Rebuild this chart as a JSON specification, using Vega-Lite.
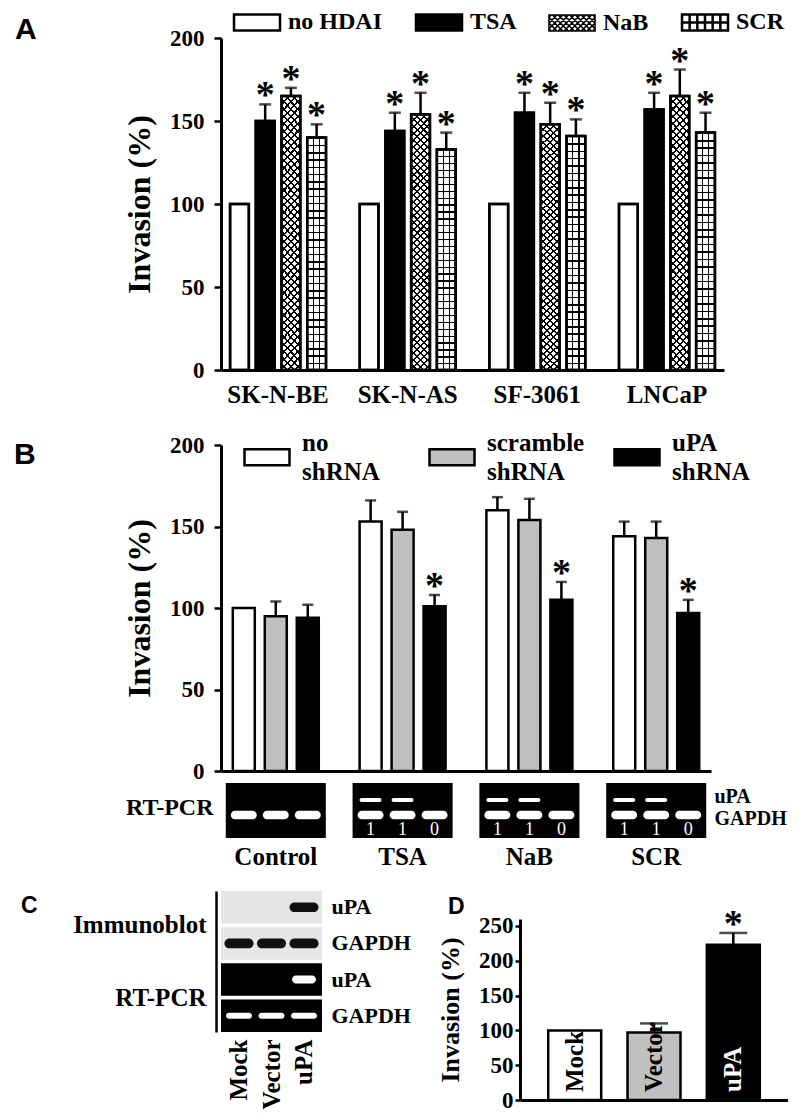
{
"$schema":"https://vega.github.io/schema/vega-lite/v6.json",
"padding":{"left":14,"top":10,"right":0,"bottom":0},
"config":{
 "view":{"stroke":null},
 "font":"Liberation Serif",
 "axis":{"labelFont":"Liberation Serif","labelFontWeight":"bold","labelColor":"#000","labelFontSize":23,"titleFont":"Liberation Serif","titleFontWeight":"bold","titleColor":"#000","domainColor":"#000","domainWidth":3,"tickColor":"#000","tickWidth":2.5,"grid":false},
 "legend":{"labelFont":"Liberation Serif","labelFontWeight":"bold","labelColor":"#000","padding":0,"labelLimit":400},
 "title":{"font":"Liberation Sans","fontWeight":"bold","color":"#000","anchor":"start","frame":"group"}
},
"datasets":{
 "a":[
  {"cell":"SK-N-BE","series":"no HDAI","value":100},
  {"cell":"SK-N-BE","series":"TSA","value":150,"hi":160,"sig":"*"},
  {"cell":"SK-N-BE","series":"NaB","value":165,"hi":170,"sig":"*"},
  {"cell":"SK-N-BE","series":"SCR","value":140,"hi":148,"sig":"*"},
  {"cell":"SK-N-AS","series":"no HDAI","value":100},
  {"cell":"SK-N-AS","series":"TSA","value":144,"hi":155,"sig":"*"},
  {"cell":"SK-N-AS","series":"NaB","value":154,"hi":167,"sig":"*"},
  {"cell":"SK-N-AS","series":"SCR","value":133,"hi":143,"sig":"*"},
  {"cell":"SF-3061","series":"no HDAI","value":100},
  {"cell":"SF-3061","series":"TSA","value":155,"hi":167,"sig":"*"},
  {"cell":"SF-3061","series":"NaB","value":148,"hi":161,"sig":"*"},
  {"cell":"SF-3061","series":"SCR","value":141,"hi":151,"sig":"*"},
  {"cell":"LNCaP","series":"no HDAI","value":100},
  {"cell":"LNCaP","series":"TSA","value":157,"hi":167,"sig":"*"},
  {"cell":"LNCaP","series":"NaB","value":165,"hi":181,"sig":"*"},
  {"cell":"LNCaP","series":"SCR","value":143,"hi":155,"sig":"*"}
 ],
 "b":[
  {"group":"Control","series":"no shRNA","value":100},
  {"group":"Control","series":"scramble shRNA","value":95,"hi":104},
  {"group":"Control","series":"uPA shRNA","value":94,"hi":102},
  {"group":"TSA","series":"no shRNA","value":153,"hi":166},
  {"group":"TSA","series":"scramble shRNA","value":148,"hi":159},
  {"group":"TSA","series":"uPA shRNA","value":101,"hi":108,"sig":"*"},
  {"group":"NaB","series":"no shRNA","value":160,"hi":168},
  {"group":"NaB","series":"scramble shRNA","value":154,"hi":167},
  {"group":"NaB","series":"uPA shRNA","value":105,"hi":116,"sig":"*"},
  {"group":"SCR","series":"no shRNA","value":144,"hi":153},
  {"group":"SCR","series":"scramble shRNA","value":143,"hi":153},
  {"group":"SCR","series":"uPA shRNA","value":97,"hi":105,"sig":"*"}
 ],
 "gel":[{"group":"Control"},{"group":"TSA"},{"group":"NaB"},{"group":"SCR"}],
 "gband":[
  {"group":"Control","lane":"no shRNA","gene":"GAPDH"},
  {"group":"Control","lane":"scramble shRNA","gene":"GAPDH"},
  {"group":"Control","lane":"uPA shRNA","gene":"GAPDH"},
  {"group":"TSA","lane":"no shRNA","gene":"GAPDH"},
  {"group":"TSA","lane":"scramble shRNA","gene":"GAPDH"},
  {"group":"TSA","lane":"uPA shRNA","gene":"GAPDH"},
  {"group":"NaB","lane":"no shRNA","gene":"GAPDH"},
  {"group":"NaB","lane":"scramble shRNA","gene":"GAPDH"},
  {"group":"NaB","lane":"uPA shRNA","gene":"GAPDH"},
  {"group":"SCR","lane":"no shRNA","gene":"GAPDH"},
  {"group":"SCR","lane":"scramble shRNA","gene":"GAPDH"},
  {"group":"SCR","lane":"uPA shRNA","gene":"GAPDH"},
  {"group":"TSA","lane":"no shRNA","gene":"uPA"},
  {"group":"TSA","lane":"scramble shRNA","gene":"uPA"},
  {"group":"NaB","lane":"no shRNA","gene":"uPA"},
  {"group":"NaB","lane":"scramble shRNA","gene":"uPA"},
  {"group":"SCR","lane":"no shRNA","gene":"uPA"},
  {"group":"SCR","lane":"scramble shRNA","gene":"uPA"}
 ],
 "gnum":[
  {"group":"TSA","lane":"no shRNA","row":"num","label":"1"},
  {"group":"TSA","lane":"scramble shRNA","row":"num","label":"1"},
  {"group":"TSA","lane":"uPA shRNA","row":"num","label":"0"},
  {"group":"NaB","lane":"no shRNA","row":"num","label":"1"},
  {"group":"NaB","lane":"scramble shRNA","row":"num","label":"1"},
  {"group":"NaB","lane":"uPA shRNA","row":"num","label":"0"},
  {"group":"SCR","lane":"no shRNA","row":"num","label":"1"},
  {"group":"SCR","lane":"scramble shRNA","row":"num","label":"1"},
  {"group":"SCR","lane":"uPA shRNA","row":"num","label":"0"}
 ],
 "cbg":[
  {"row":"IB-uPA","tech":"Immunoblot"},
  {"row":"IB-GAPDH","tech":"Immunoblot"},
  {"row":"PCR-uPA","tech":"RT-PCR"},
  {"row":"PCR-GAPDH","tech":"RT-PCR"}
 ],
 "cband":[
  {"lane":"uPA","row":"IB-uPA"},
  {"lane":"Mock","row":"IB-GAPDH"},
  {"lane":"Vector","row":"IB-GAPDH"},
  {"lane":"uPA","row":"IB-GAPDH"},
  {"lane":"uPA","row":"PCR-uPA"},
  {"lane":"Mock","row":"PCR-GAPDH"},
  {"lane":"Vector","row":"PCR-GAPDH"},
  {"lane":"uPA","row":"PCR-GAPDH"}
 ],
 "d":[
  {"sample":"Mock","value":100},
  {"sample":"Vector","value":97,"hi":110},
  {"sample":"uPA","value":223,"hi":240,"sig":"*"}
 ]
},
"resolve":{"scale":{"fill":"independent","xOffset":"independent"},"legend":{"fill":"independent"}},
"spacing":26,
"vconcat":[
 {
  "width":503,"height":332,
  "title":{"text":"A","fontSize":30,"dx":-206,"dy":39},
  "data":{"name":"a"},
  "encoding":{
   "x":{"field":"cell","type":"nominal","scale":{"domain":["SK-N-BE","SK-N-AS","SF-3061","LNCaP"],"paddingInner":0.26,"paddingOuter":0.07},"axis":{"title":null,"ticks":false,"labelAngle":0,"labelFontSize":25,"labelPadding":12}},
   "xOffset":{"field":"series","type":"nominal","scale":{"domain":["no HDAI","TSA","NaB","SCR"],"paddingInner":0.27,"paddingOuter":0}}
  },
  "layer":[
   {"mark":{"type":"bar","stroke":"#000","strokeWidth":2.5},
    "encoding":{
     "y":{"field":"value","type":"quantitative","stack":null,"scale":{"domain":[0,200]},"title":"Invasion (%)","axis":{"values":[0,50,100,150,200],"tickSize":7,"labelPadding":10,"titleFontSize":32,"titlePadding":13}},
     "fill":{"field":"series","type":"nominal","scale":{"domain":["no HDAI","TSA","NaB","SCR"],"range":["#fff","#000","#fff","#fff"]},
      "legend":{"orient":"none","legendX":24,"legendY":-28,"direction":"horizontal","title":null,"symbolType":"M-1,-0.348H1V0.348H-1Z","symbolSize":2116,"symbolStrokeColor":"#000","symbolStrokeWidth":2.5,"labelFontSize":24,"labelOffset":19,"columnPadding":28,"gridAlign":"each",
       "encode":{"symbols":{"update":{
        "shape":{"signal":"datum.value==='NaB'?'M-1,-0.348H1V0.348H-1Z M-1,0.25L-0.902,0.348 M-1,0L-0.652,0.348 M-1,-0.25L-0.402,0.348 M-0.848,-0.348L-0.152,0.348 M-0.598,-0.348L0.098,0.348 M-0.348,-0.348L0.348,0.348 M-0.098,-0.348L0.598,0.348 M0.152,-0.348L0.848,0.348 M0.402,-0.348L1,0.25 M0.652,-0.348L1,0 M0.902,-0.348L1,-0.25 M-0.902,-0.348L-1,-0.25 M-0.652,-0.348L-1,0 M-0.402,-0.348L-1,0.25 M-0.152,-0.348L-0.848,0.348 M0.098,-0.348L-0.598,0.348 M0.348,-0.348L-0.348,0.348 M0.598,-0.348L-0.098,0.348 M0.848,-0.348L0.152,0.348 M1,-0.25L0.402,0.348 M1,0L0.652,0.348 M1,0.25L0.902,0.348':datum.value==='SCR'?'M-1,-0.348H1V0.348H-1Z M-0.667,-0.348V0.348 M-0.333,-0.348V0.348 M0,-0.348V0.348 M0.333,-0.348V0.348 M0.667,-0.348V0.348 M-1,0H1':'M-1,-0.348H1V0.348H-1Z'"},
        "stroke":{"value":"#000"},
        "strokeWidth":{"signal":"datum.value==='NaB'?1.6:2.5"}}}}}}
    }},
   {"transform":[{"filter":"datum.series==='NaB'"}],
    "mark":{"type":"bar","fill":{"gradient":"linear","x1":0,"y1":0,"x2":0.0791,"y2":1.068,"stops":[
{"offset":0,"color":"#000"},{"offset":0.0075,"color":"#000"},{"offset":0.0075,"color":"#0000"},{"offset":0.025,"color":"#0000"},
{"offset":0.025,"color":"#000"},{"offset":0.0325,"color":"#000"},{"offset":0.0325,"color":"#0000"},{"offset":0.05,"color":"#0000"},
{"offset":0.05,"color":"#000"},{"offset":0.0575,"color":"#000"},{"offset":0.0575,"color":"#0000"},{"offset":0.075,"color":"#0000"},
{"offset":0.075,"color":"#000"},{"offset":0.0825,"color":"#000"},{"offset":0.0825,"color":"#0000"},{"offset":0.1,"color":"#0000"},
{"offset":0.1,"color":"#000"},{"offset":0.1075,"color":"#000"},{"offset":0.1075,"color":"#0000"},{"offset":0.125,"color":"#0000"},
{"offset":0.125,"color":"#000"},{"offset":0.1325,"color":"#000"},{"offset":0.1325,"color":"#0000"},{"offset":0.15,"color":"#0000"},
{"offset":0.15,"color":"#000"},{"offset":0.1575,"color":"#000"},{"offset":0.1575,"color":"#0000"},{"offset":0.175,"color":"#0000"},
{"offset":0.175,"color":"#000"},{"offset":0.1825,"color":"#000"},{"offset":0.1825,"color":"#0000"},{"offset":0.2,"color":"#0000"},
{"offset":0.2,"color":"#000"},{"offset":0.2075,"color":"#000"},{"offset":0.2075,"color":"#0000"},{"offset":0.225,"color":"#0000"},
{"offset":0.225,"color":"#000"},{"offset":0.2325,"color":"#000"},{"offset":0.2325,"color":"#0000"},{"offset":0.25,"color":"#0000"},
{"offset":0.25,"color":"#000"},{"offset":0.2575,"color":"#000"},{"offset":0.2575,"color":"#0000"},{"offset":0.275,"color":"#0000"},
{"offset":0.275,"color":"#000"},{"offset":0.2825,"color":"#000"},{"offset":0.2825,"color":"#0000"},{"offset":0.3,"color":"#0000"},
{"offset":0.3,"color":"#000"},{"offset":0.3075,"color":"#000"},{"offset":0.3075,"color":"#0000"},{"offset":0.325,"color":"#0000"},
{"offset":0.325,"color":"#000"},{"offset":0.3325,"color":"#000"},{"offset":0.3325,"color":"#0000"},{"offset":0.35,"color":"#0000"},
{"offset":0.35,"color":"#000"},{"offset":0.3575,"color":"#000"},{"offset":0.3575,"color":"#0000"},{"offset":0.375,"color":"#0000"},
{"offset":0.375,"color":"#000"},{"offset":0.3825,"color":"#000"},{"offset":0.3825,"color":"#0000"},{"offset":0.4,"color":"#0000"},
{"offset":0.4,"color":"#000"},{"offset":0.4075,"color":"#000"},{"offset":0.4075,"color":"#0000"},{"offset":0.425,"color":"#0000"},
{"offset":0.425,"color":"#000"},{"offset":0.4325,"color":"#000"},{"offset":0.4325,"color":"#0000"},{"offset":0.45,"color":"#0000"},
{"offset":0.45,"color":"#000"},{"offset":0.4575,"color":"#000"},{"offset":0.4575,"color":"#0000"},{"offset":0.475,"color":"#0000"},
{"offset":0.475,"color":"#000"},{"offset":0.4825,"color":"#000"},{"offset":0.4825,"color":"#0000"},{"offset":0.5,"color":"#0000"},
{"offset":0.5,"color":"#000"},{"offset":0.5075,"color":"#000"},{"offset":0.5075,"color":"#0000"},{"offset":0.525,"color":"#0000"},
{"offset":0.525,"color":"#000"},{"offset":0.5325,"color":"#000"},{"offset":0.5325,"color":"#0000"},{"offset":0.55,"color":"#0000"},
{"offset":0.55,"color":"#000"},{"offset":0.5575,"color":"#000"},{"offset":0.5575,"color":"#0000"},{"offset":0.575,"color":"#0000"},
{"offset":0.575,"color":"#000"},{"offset":0.5825,"color":"#000"},{"offset":0.5825,"color":"#0000"},{"offset":0.6,"color":"#0000"},
{"offset":0.6,"color":"#000"},{"offset":0.6075,"color":"#000"},{"offset":0.6075,"color":"#0000"},{"offset":0.625,"color":"#0000"},
{"offset":0.625,"color":"#000"},{"offset":0.6325,"color":"#000"},{"offset":0.6325,"color":"#0000"},{"offset":0.65,"color":"#0000"},
{"offset":0.65,"color":"#000"},{"offset":0.6575,"color":"#000"},{"offset":0.6575,"color":"#0000"},{"offset":0.675,"color":"#0000"},
{"offset":0.675,"color":"#000"},{"offset":0.6825,"color":"#000"},{"offset":0.6825,"color":"#0000"},{"offset":0.7,"color":"#0000"},
{"offset":0.7,"color":"#000"},{"offset":0.7075,"color":"#000"},{"offset":0.7075,"color":"#0000"},{"offset":0.725,"color":"#0000"},
{"offset":0.725,"color":"#000"},{"offset":0.7325,"color":"#000"},{"offset":0.7325,"color":"#0000"},{"offset":0.75,"color":"#0000"},
{"offset":0.75,"color":"#000"},{"offset":0.7575,"color":"#000"},{"offset":0.7575,"color":"#0000"},{"offset":0.775,"color":"#0000"},
{"offset":0.775,"color":"#000"},{"offset":0.7825,"color":"#000"},{"offset":0.7825,"color":"#0000"},{"offset":0.8,"color":"#0000"},
{"offset":0.8,"color":"#000"},{"offset":0.8075,"color":"#000"},{"offset":0.8075,"color":"#0000"},{"offset":0.825,"color":"#0000"},
{"offset":0.825,"color":"#000"},{"offset":0.8325,"color":"#000"},{"offset":0.8325,"color":"#0000"},{"offset":0.85,"color":"#0000"},
{"offset":0.85,"color":"#000"},{"offset":0.8575,"color":"#000"},{"offset":0.8575,"color":"#0000"},{"offset":0.875,"color":"#0000"},
{"offset":0.875,"color":"#000"},{"offset":0.8825,"color":"#000"},{"offset":0.8825,"color":"#0000"},{"offset":0.9,"color":"#0000"},
{"offset":0.9,"color":"#000"},{"offset":0.9075,"color":"#000"},{"offset":0.9075,"color":"#0000"},{"offset":0.925,"color":"#0000"},
{"offset":0.925,"color":"#000"},{"offset":0.9325,"color":"#000"},{"offset":0.9325,"color":"#0000"},{"offset":0.95,"color":"#0000"},
{"offset":0.95,"color":"#000"},{"offset":0.9575,"color":"#000"},{"offset":0.9575,"color":"#0000"},{"offset":0.975,"color":"#0000"},
{"offset":0.975,"color":"#000"},{"offset":0.9825,"color":"#000"},{"offset":0.9825,"color":"#0000"},{"offset":1,"color":"#0000"}
    ]}},
    "encoding":{"y":{"field":"value","type":"quantitative","stack":null,"title":"Invasion (%)"}}},
   {"transform":[{"filter":"datum.series==='NaB'"}],
    "mark":{"type":"bar","fill":{"gradient":"linear","x1":1,"y1":0,"x2":0.9209,"y2":1.068,"stops":[
{"offset":0,"color":"#000"},{"offset":0.0075,"color":"#000"},{"offset":0.0075,"color":"#0000"},{"offset":0.025,"color":"#0000"},
{"offset":0.025,"color":"#000"},{"offset":0.0325,"color":"#000"},{"offset":0.0325,"color":"#0000"},{"offset":0.05,"color":"#0000"},
{"offset":0.05,"color":"#000"},{"offset":0.0575,"color":"#000"},{"offset":0.0575,"color":"#0000"},{"offset":0.075,"color":"#0000"},
{"offset":0.075,"color":"#000"},{"offset":0.0825,"color":"#000"},{"offset":0.0825,"color":"#0000"},{"offset":0.1,"color":"#0000"},
{"offset":0.1,"color":"#000"},{"offset":0.1075,"color":"#000"},{"offset":0.1075,"color":"#0000"},{"offset":0.125,"color":"#0000"},
{"offset":0.125,"color":"#000"},{"offset":0.1325,"color":"#000"},{"offset":0.1325,"color":"#0000"},{"offset":0.15,"color":"#0000"},
{"offset":0.15,"color":"#000"},{"offset":0.1575,"color":"#000"},{"offset":0.1575,"color":"#0000"},{"offset":0.175,"color":"#0000"},
{"offset":0.175,"color":"#000"},{"offset":0.1825,"color":"#000"},{"offset":0.1825,"color":"#0000"},{"offset":0.2,"color":"#0000"},
{"offset":0.2,"color":"#000"},{"offset":0.2075,"color":"#000"},{"offset":0.2075,"color":"#0000"},{"offset":0.225,"color":"#0000"},
{"offset":0.225,"color":"#000"},{"offset":0.2325,"color":"#000"},{"offset":0.2325,"color":"#0000"},{"offset":0.25,"color":"#0000"},
{"offset":0.25,"color":"#000"},{"offset":0.2575,"color":"#000"},{"offset":0.2575,"color":"#0000"},{"offset":0.275,"color":"#0000"},
{"offset":0.275,"color":"#000"},{"offset":0.2825,"color":"#000"},{"offset":0.2825,"color":"#0000"},{"offset":0.3,"color":"#0000"},
{"offset":0.3,"color":"#000"},{"offset":0.3075,"color":"#000"},{"offset":0.3075,"color":"#0000"},{"offset":0.325,"color":"#0000"},
{"offset":0.325,"color":"#000"},{"offset":0.3325,"color":"#000"},{"offset":0.3325,"color":"#0000"},{"offset":0.35,"color":"#0000"},
{"offset":0.35,"color":"#000"},{"offset":0.3575,"color":"#000"},{"offset":0.3575,"color":"#0000"},{"offset":0.375,"color":"#0000"},
{"offset":0.375,"color":"#000"},{"offset":0.3825,"color":"#000"},{"offset":0.3825,"color":"#0000"},{"offset":0.4,"color":"#0000"},
{"offset":0.4,"color":"#000"},{"offset":0.4075,"color":"#000"},{"offset":0.4075,"color":"#0000"},{"offset":0.425,"color":"#0000"},
{"offset":0.425,"color":"#000"},{"offset":0.4325,"color":"#000"},{"offset":0.4325,"color":"#0000"},{"offset":0.45,"color":"#0000"},
{"offset":0.45,"color":"#000"},{"offset":0.4575,"color":"#000"},{"offset":0.4575,"color":"#0000"},{"offset":0.475,"color":"#0000"},
{"offset":0.475,"color":"#000"},{"offset":0.4825,"color":"#000"},{"offset":0.4825,"color":"#0000"},{"offset":0.5,"color":"#0000"},
{"offset":0.5,"color":"#000"},{"offset":0.5075,"color":"#000"},{"offset":0.5075,"color":"#0000"},{"offset":0.525,"color":"#0000"},
{"offset":0.525,"color":"#000"},{"offset":0.5325,"color":"#000"},{"offset":0.5325,"color":"#0000"},{"offset":0.55,"color":"#0000"},
{"offset":0.55,"color":"#000"},{"offset":0.5575,"color":"#000"},{"offset":0.5575,"color":"#0000"},{"offset":0.575,"color":"#0000"},
{"offset":0.575,"color":"#000"},{"offset":0.5825,"color":"#000"},{"offset":0.5825,"color":"#0000"},{"offset":0.6,"color":"#0000"},
{"offset":0.6,"color":"#000"},{"offset":0.6075,"color":"#000"},{"offset":0.6075,"color":"#0000"},{"offset":0.625,"color":"#0000"},
{"offset":0.625,"color":"#000"},{"offset":0.6325,"color":"#000"},{"offset":0.6325,"color":"#0000"},{"offset":0.65,"color":"#0000"},
{"offset":0.65,"color":"#000"},{"offset":0.6575,"color":"#000"},{"offset":0.6575,"color":"#0000"},{"offset":0.675,"color":"#0000"},
{"offset":0.675,"color":"#000"},{"offset":0.6825,"color":"#000"},{"offset":0.6825,"color":"#0000"},{"offset":0.7,"color":"#0000"},
{"offset":0.7,"color":"#000"},{"offset":0.7075,"color":"#000"},{"offset":0.7075,"color":"#0000"},{"offset":0.725,"color":"#0000"},
{"offset":0.725,"color":"#000"},{"offset":0.7325,"color":"#000"},{"offset":0.7325,"color":"#0000"},{"offset":0.75,"color":"#0000"},
{"offset":0.75,"color":"#000"},{"offset":0.7575,"color":"#000"},{"offset":0.7575,"color":"#0000"},{"offset":0.775,"color":"#0000"},
{"offset":0.775,"color":"#000"},{"offset":0.7825,"color":"#000"},{"offset":0.7825,"color":"#0000"},{"offset":0.8,"color":"#0000"},
{"offset":0.8,"color":"#000"},{"offset":0.8075,"color":"#000"},{"offset":0.8075,"color":"#0000"},{"offset":0.825,"color":"#0000"},
{"offset":0.825,"color":"#000"},{"offset":0.8325,"color":"#000"},{"offset":0.8325,"color":"#0000"},{"offset":0.85,"color":"#0000"},
{"offset":0.85,"color":"#000"},{"offset":0.8575,"color":"#000"},{"offset":0.8575,"color":"#0000"},{"offset":0.875,"color":"#0000"},
{"offset":0.875,"color":"#000"},{"offset":0.8825,"color":"#000"},{"offset":0.8825,"color":"#0000"},{"offset":0.9,"color":"#0000"},
{"offset":0.9,"color":"#000"},{"offset":0.9075,"color":"#000"},{"offset":0.9075,"color":"#0000"},{"offset":0.925,"color":"#0000"},
{"offset":0.925,"color":"#000"},{"offset":0.9325,"color":"#000"},{"offset":0.9325,"color":"#0000"},{"offset":0.95,"color":"#0000"},
{"offset":0.95,"color":"#000"},{"offset":0.9575,"color":"#000"},{"offset":0.9575,"color":"#0000"},{"offset":0.975,"color":"#0000"},
{"offset":0.975,"color":"#000"},{"offset":0.9825,"color":"#000"},{"offset":0.9825,"color":"#0000"},{"offset":1,"color":"#0000"}
    ]}},
    "encoding":{"y":{"field":"value","type":"quantitative","stack":null,"title":"Invasion (%)"}}},
   {"transform":[{"filter":"datum.series==='SCR'"}],
    "mark":{"type":"bar","fill":{"gradient":"linear","x1":0,"y1":0,"x2":0,"y2":1,"stops":[
{"offset":0,"color":"#000"},{"offset":0.00625,"color":"#000"},{"offset":0.00625,"color":"#0000"},{"offset":0.03125,"color":"#0000"},
{"offset":0.03125,"color":"#000"},{"offset":0.0375,"color":"#000"},{"offset":0.0375,"color":"#0000"},{"offset":0.0625,"color":"#0000"},
{"offset":0.0625,"color":"#000"},{"offset":0.06875,"color":"#000"},{"offset":0.06875,"color":"#0000"},{"offset":0.09375,"color":"#0000"},
{"offset":0.09375,"color":"#000"},{"offset":0.1,"color":"#000"},{"offset":0.1,"color":"#0000"},{"offset":0.125,"color":"#0000"},
{"offset":0.125,"color":"#000"},{"offset":0.13125,"color":"#000"},{"offset":0.13125,"color":"#0000"},{"offset":0.15625,"color":"#0000"},
{"offset":0.15625,"color":"#000"},{"offset":0.1625,"color":"#000"},{"offset":0.1625,"color":"#0000"},{"offset":0.1875,"color":"#0000"},
{"offset":0.1875,"color":"#000"},{"offset":0.19375,"color":"#000"},{"offset":0.19375,"color":"#0000"},{"offset":0.21875,"color":"#0000"},
{"offset":0.21875,"color":"#000"},{"offset":0.225,"color":"#000"},{"offset":0.225,"color":"#0000"},{"offset":0.25,"color":"#0000"},
{"offset":0.25,"color":"#000"},{"offset":0.25625,"color":"#000"},{"offset":0.25625,"color":"#0000"},{"offset":0.28125,"color":"#0000"},
{"offset":0.28125,"color":"#000"},{"offset":0.2875,"color":"#000"},{"offset":0.2875,"color":"#0000"},{"offset":0.3125,"color":"#0000"},
{"offset":0.3125,"color":"#000"},{"offset":0.31875,"color":"#000"},{"offset":0.31875,"color":"#0000"},{"offset":0.34375,"color":"#0000"},
{"offset":0.34375,"color":"#000"},{"offset":0.35,"color":"#000"},{"offset":0.35,"color":"#0000"},{"offset":0.375,"color":"#0000"},
{"offset":0.375,"color":"#000"},{"offset":0.38125,"color":"#000"},{"offset":0.38125,"color":"#0000"},{"offset":0.40625,"color":"#0000"},
{"offset":0.40625,"color":"#000"},{"offset":0.4125,"color":"#000"},{"offset":0.4125,"color":"#0000"},{"offset":0.4375,"color":"#0000"},
{"offset":0.4375,"color":"#000"},{"offset":0.44375,"color":"#000"},{"offset":0.44375,"color":"#0000"},{"offset":0.46875,"color":"#0000"},
{"offset":0.46875,"color":"#000"},{"offset":0.475,"color":"#000"},{"offset":0.475,"color":"#0000"},{"offset":0.5,"color":"#0000"},
{"offset":0.5,"color":"#000"},{"offset":0.50625,"color":"#000"},{"offset":0.50625,"color":"#0000"},{"offset":0.53125,"color":"#0000"},
{"offset":0.53125,"color":"#000"},{"offset":0.5375,"color":"#000"},{"offset":0.5375,"color":"#0000"},{"offset":0.5625,"color":"#0000"},
{"offset":0.5625,"color":"#000"},{"offset":0.56875,"color":"#000"},{"offset":0.56875,"color":"#0000"},{"offset":0.59375,"color":"#0000"},
{"offset":0.59375,"color":"#000"},{"offset":0.6,"color":"#000"},{"offset":0.6,"color":"#0000"},{"offset":0.625,"color":"#0000"},
{"offset":0.625,"color":"#000"},{"offset":0.63125,"color":"#000"},{"offset":0.63125,"color":"#0000"},{"offset":0.65625,"color":"#0000"},
{"offset":0.65625,"color":"#000"},{"offset":0.6625,"color":"#000"},{"offset":0.6625,"color":"#0000"},{"offset":0.6875,"color":"#0000"},
{"offset":0.6875,"color":"#000"},{"offset":0.69375,"color":"#000"},{"offset":0.69375,"color":"#0000"},{"offset":0.71875,"color":"#0000"},
{"offset":0.71875,"color":"#000"},{"offset":0.725,"color":"#000"},{"offset":0.725,"color":"#0000"},{"offset":0.75,"color":"#0000"},
{"offset":0.75,"color":"#000"},{"offset":0.75625,"color":"#000"},{"offset":0.75625,"color":"#0000"},{"offset":0.78125,"color":"#0000"},
{"offset":0.78125,"color":"#000"},{"offset":0.7875,"color":"#000"},{"offset":0.7875,"color":"#0000"},{"offset":0.8125,"color":"#0000"},
{"offset":0.8125,"color":"#000"},{"offset":0.81875,"color":"#000"},{"offset":0.81875,"color":"#0000"},{"offset":0.84375,"color":"#0000"},
{"offset":0.84375,"color":"#000"},{"offset":0.85,"color":"#000"},{"offset":0.85,"color":"#0000"},{"offset":0.875,"color":"#0000"},
{"offset":0.875,"color":"#000"},{"offset":0.88125,"color":"#000"},{"offset":0.88125,"color":"#0000"},{"offset":0.90625,"color":"#0000"},
{"offset":0.90625,"color":"#000"},{"offset":0.9125,"color":"#000"},{"offset":0.9125,"color":"#0000"},{"offset":0.9375,"color":"#0000"},
{"offset":0.9375,"color":"#000"},{"offset":0.94375,"color":"#000"},{"offset":0.94375,"color":"#0000"},{"offset":0.96875,"color":"#0000"},
{"offset":0.96875,"color":"#000"},{"offset":0.975,"color":"#000"},{"offset":0.975,"color":"#0000"},{"offset":1,"color":"#0000"}
    ]}},
    "encoding":{"y":{"field":"value","type":"quantitative","stack":null,"title":"Invasion (%)"}}},
   {"transform":[{"filter":"datum.series==='SCR'"}],
    "mark":{"type":"bar","fill":{"gradient":"linear","x1":0,"y1":0,"x2":1,"y2":0,"stops":[
{"offset":0,"color":"#0000"},{"offset":0.3,"color":"#0000"},{"offset":0.3,"color":"#000"},{"offset":0.37,"color":"#000"},{"offset":0.37,"color":"#0000"},{"offset":0.63,"color":"#0000"},{"offset":0.63,"color":"#000"},{"offset":0.7,"color":"#000"},{"offset":0.7,"color":"#0000"},{"offset":1,"color":"#0000"}
    ]}},
    "encoding":{"y":{"field":"value","type":"quantitative","stack":null,"title":"Invasion (%)"}}},
   {"mark":{"type":"bar","fillOpacity":0,"stroke":"#000","strokeWidth":2.5},
    "encoding":{"y":{"field":"value","type":"quantitative","stack":null,"title":"Invasion (%)"}}},
   {"transform":[{"filter":"isValid(datum.hi)"}],
    "mark":{"type":"rule","color":"#000","strokeWidth":2.5},
    "encoding":{"y":{"field":"value","type":"quantitative","title":"Invasion (%)"},"y2":{"field":"hi"}}},
   {"transform":[{"filter":"isValid(datum.hi)"}],
    "mark":{"type":"tick","color":"#000","thickness":2.5,"size":12,"orient":"horizontal"},
    "encoding":{"y":{"field":"hi","type":"quantitative","title":"Invasion (%)"}}},
   {"transform":[{"filter":"datum.sig==='*'"}],
    "mark":{"type":"text","text":"*","fontSize":38,"fontWeight":"bold","baseline":"alphabetic","dy":3,"color":"#000"},
    "encoding":{"y":{"field":"hi","type":"quantitative","title":"Invasion (%)"}}}
  ]
 },
 {
  "resolve":{"scale":{"fill":"independent","xOffset":"independent"},"legend":{"fill":"independent"}},
  "spacing":22,
  "vconcat":[
   {
    "resolve":{"scale":{"fill":"independent","xOffset":"independent"},"legend":{"fill":"independent"}},
    "spacing":-1,
    "vconcat":[
     {
      "width":490,"height":326,
      "title":{"text":"B","fontSize":30,"dx":-207,"dy":41},
      "data":{"name":"b"},
      "encoding":{
       "x":{"field":"group","type":"nominal","scale":{"domain":["Control","TSA","NaB","SCR"],"paddingInner":0.322,"paddingOuter":0.093},"axis":{"title":null,"labels":false,"ticks":false}},
       "xOffset":{"field":"series","type":"nominal","scale":{"domain":["no shRNA","scramble shRNA","uPA shRNA"],"paddingInner":0.3125,"paddingOuter":0}}
      },
      "layer":[
       {"mark":{"type":"bar","stroke":"#000","strokeWidth":2.5},
        "encoding":{
         "y":{"field":"value","type":"quantitative","stack":null,"scale":{"domain":[0,200]},"title":"Invasion (%)","axis":{"values":[0,50,100,150,200],"tickSize":7,"labelPadding":10,"titleFontSize":32,"titlePadding":13}},
         "fill":{"field":"series","type":"nominal","scale":{"domain":["no shRNA","scramble shRNA","uPA shRNA"],"range":["#fff","#c0c0c0","#000"]},
          "legend":{"orient":"none","legendX":22,"legendY":-12,"direction":"horizontal","title":null,"symbolType":"M-1,-0.356H1V0.356H-1Z","symbolSize":2025,"symbolStrokeColor":"#000","symbolStrokeWidth":2.5,"labelFontSize":25,"labelOffset":11,"columnPadding":24,"gridAlign":"all","labelExpr":"split(datum.label,' ')",
           "encode":{"symbols":{"update":{"stroke":{"value":"#000"},"strokeWidth":{"value":2.5}}},"labels":{"update":{"lineHeight":{"value":29},"dy":{"value":-14.5}}}}}}
        }},
       {"transform":[{"filter":"isValid(datum.hi)"}],
        "mark":{"type":"rule","color":"#000","strokeWidth":2.5},
        "encoding":{"y":{"field":"value","type":"quantitative","title":"Invasion (%)"},"y2":{"field":"hi"}}},
       {"transform":[{"filter":"isValid(datum.hi)"}],
        "mark":{"type":"tick","color":"#000","thickness":2.5,"size":11,"orient":"horizontal"},
        "encoding":{"y":{"field":"hi","type":"quantitative","title":"Invasion (%)"}}},
       {"transform":[{"filter":"datum.sig==='*'"}],
        "mark":{"type":"text","text":"*","fontSize":38,"fontWeight":"bold","baseline":"alphabetic","dy":3,"color":"#000"},
        "encoding":{"y":{"field":"hi","type":"quantitative","title":"Invasion (%)"}}}
      ]
     },
     {
      "width":490,"height":55,
      "encoding":{"x":{"field":"group","type":"nominal","scale":{"type":"band","domain":["Control","TSA","NaB","SCR"],"paddingInner":0.211,"paddingOuter":0.0376},"axis":{"title":null,"ticks":false,"domain":false,"labelAngle":0,"labelFontSize":25,"labelPadding":6}}},
      "layer":[
       {"data":{"name":"gel"},"mark":{"type":"rect","color":"#000"}},
       {"data":{"name":"gband"},"transform":[{"filter":"datum.gene==='GAPDH'"}],
        "mark":{"type":"point","shape":"M-0.667,-0.333H0.667A0.333,0.333 0 0 1 0.667,0.333H-0.667A0.333,0.333 0 0 1 -0.667,-0.333Z","filled":true,"color":"#fff","size":676,"opacity":1,"strokeWidth":0},
        "encoding":{
         "xOffset":{"field":"lane","type":"nominal","scale":{"type":"band","domain":["no shRNA","scramble shRNA","uPA shRNA"],"paddingInner":0.1875,"paddingOuter":0.156}},
         "y":{"field":"gene","type":"nominal","scale":{"type":"band","domain":["uPA","GAPDH","num"],"paddingInner":0,"paddingOuter":0.333,"align":0.95},"axis":{"orient":"left","title":null,"domain":false,"ticks":false,"values":["GAPDH"],"labelExpr":"'RT-PCR'","labelOffset":-7,"labelPadding":8,"labelFontSize":24}}}},
       {"data":{"name":"gband"},"transform":[{"filter":"datum.gene==='uPA'"}],
        "mark":{"type":"point","shape":"M-0.82,-0.18H0.82A0.18,0.18 0 0 1 0.82,0.18H-0.82A0.18,0.18 0 0 1 -0.82,-0.18Z","filled":true,"color":"#fff","size":484,"opacity":1,"strokeWidth":0},
        "encoding":{
         "xOffset":{"field":"lane","type":"nominal","scale":{"type":"band","domain":["no shRNA","scramble shRNA","uPA shRNA"],"paddingInner":0.1875,"paddingOuter":0.156}},
         "y":{"field":"gene","type":"nominal","axis":{"orient":"right","title":null,"domain":false,"ticks":false,"values":["uPA"],"labelOffset":-3,"labelPadding":3,"labelFontSize":20}}}},
       {"data":{"name":"gnum"},
        "mark":{"type":"text","color":"#fff","fontSize":18,"fontWeight":"normal","baseline":"middle"},
        "encoding":{
         "xOffset":{"field":"lane","type":"nominal","scale":{"type":"band","domain":["no shRNA","scramble shRNA","uPA shRNA"],"paddingInner":0.1875,"paddingOuter":0.156}},
         "y":{"field":"row","type":"nominal","axis":{"orient":"right","title":null,"domain":false,"ticks":false,"values":["GAPDH"],"labelExpr":"'GAPDH'","labelOffset":4,"labelPadding":3,"labelFontSize":20}},
         "text":{"field":"label"}}}
      ],
      "resolve":{"axis":{"y":"independent"}}
     }
    ]
   },
   {
    "resolve":{"scale":{"fill":"independent","xOffset":"independent"},"legend":{"fill":"independent"}},
    "spacing":26,
    "hconcat":[
     {
      "width":101,"height":141,
      "title":{"text":"C","fontSize":23,"dx":-200,"dy":31},
      "layer":[
       {"data":{"name":"cbg"},"mark":{"type":"rect"},
        "encoding":{
         "y":{"field":"row","type":"nominal","scale":{"type":"band","domain":["IB-uPA","IB-GAPDH","PCR-uPA","PCR-GAPDH"],"paddingInner":0.1,"paddingOuter":0},"axis":{"orient":"left","title":null,"ticks":false,"offset":5,"domainWidth":2.5,"values":["IB-GAPDH","PCR-GAPDH"],"labelExpr":"datum.value==='IB-GAPDH'?'Immunoblot':'RT-PCR'","labelOffset":-18,"labelPadding":10,"labelFontSize":25}},
         "fill":{"field":"tech","type":"nominal","scale":{"domain":["Immunoblot","RT-PCR"],"range":["#e6e6e6","#000"]},"legend":null}}},
       {"data":{"name":"cband"},"transform":[{"filter":"datum.row==='IB-uPA'||datum.row==='IB-GAPDH'"}],
        "mark":{"type":"point","shape":"M-0.667,-0.333H0.667A0.333,0.333 0 0 1 0.667,0.333H-0.667A0.333,0.333 0 0 1 -0.667,-0.333Z","filled":true,"color":"#111","size":841,"opacity":1,"strokeWidth":0},
        "encoding":{
         "x":{"field":"lane","type":"nominal","scale":{"type":"band","domain":["Mock","Vector","uPA"],"paddingInner":0.077,"paddingOuter":0.092},"axis":{"title":null,"ticks":false,"domain":false,"labelAngle":-90,"labelFontSize":25,"labelPadding":7}},
         "y":{"field":"row","type":"nominal","axis":{"orient":"right","title":null,"domain":false,"ticks":false,"labelExpr":"indexof(datum.value,'uPA')>=0?'uPA':'GAPDH'","labelPadding":9,"labelFontSize":22}}}},
       {"data":{"name":"cband"},"transform":[{"filter":"datum.row==='PCR-uPA'"}],
        "mark":{"type":"point","shape":"M-0.667,-0.333H0.667A0.333,0.333 0 0 1 0.667,0.333H-0.667A0.333,0.333 0 0 1 -0.667,-0.333Z","filled":true,"color":"#fff","size":576,"opacity":1,"strokeWidth":0},
        "encoding":{
         "x":{"field":"lane","type":"nominal","axis":{"title":null,"ticks":false,"domain":false,"labelAngle":-90,"labelFontSize":25,"labelPadding":7}},
         "y":{"field":"row","type":"nominal","axis":null}}},
       {"data":{"name":"cband"},"transform":[{"filter":"datum.row==='PCR-GAPDH'"}],
        "mark":{"type":"point","shape":"M-0.77,-0.23H0.77A0.23,0.23 0 0 1 0.77,0.23H-0.77A0.23,0.23 0 0 1 -0.77,-0.23Z","filled":true,"color":"#fff","size":676,"opacity":1,"strokeWidth":0},
        "encoding":{
         "x":{"field":"lane","type":"nominal","axis":{"title":null,"ticks":false,"domain":false,"labelAngle":-90,"labelFontSize":25,"labelPadding":7}},
         "y":{"field":"row","type":"nominal","axis":null}}}
      ],
      "resolve":{"axis":{"y":"independent"}}
     },
     {
      "width":268,"height":209,
      "title":{"text":"D","fontSize":23,"dx":-72,"dy":32},
      "data":{"name":"d"},
      "encoding":{"x":{"field":"sample","type":"nominal","scale":{"domain":["Mock","Vector","uPA"],"paddingInner":0.332,"paddingOuter":0.356},"axis":{"title":null,"labels":false,"ticks":false}}},
      "layer":[
       {"mark":{"type":"bar","stroke":"#000","strokeWidth":2.5},
        "encoding":{
         "y":{"field":"value","type":"quantitative","stack":null,"scale":{"domain":[0,250],"range":[209,28]},"title":"Invasion (%)","axis":{"values":[0,50,100,150,200,250],"tickSize":5,"labelPadding":2,"titleFontSize":26,"titlePadding":15}},
         "fill":{"field":"sample","type":"nominal","scale":{"domain":["Mock","Vector","uPA"],"range":["#fff","#c0c0c0","#000"]},"legend":null}}},
       {"transform":[{"filter":"isValid(datum.hi)"}],
        "mark":{"type":"rule","color":"#000","strokeWidth":2.5},
        "encoding":{"y":{"field":"value","type":"quantitative","title":"Invasion (%)"},"y2":{"field":"hi"}}},
       {"transform":[{"filter":"isValid(datum.hi)"}],
        "mark":{"type":"tick","color":"#000","thickness":2.5,"size":28,"orient":"horizontal"},
        "encoding":{"y":{"field":"hi","type":"quantitative","title":"Invasion (%)"}}},
       {"transform":[{"filter":"datum.sig==='*'"}],
        "mark":{"type":"text","text":"*","fontSize":38,"fontWeight":"bold","baseline":"alphabetic","dy":3,"color":"#000"},
        "encoding":{"y":{"field":"hi","type":"quantitative","title":"Invasion (%)"}}},
       {"mark":{"type":"text","angle":270,"align":"left","baseline":"middle","fontSize":25,"fontWeight":"bold","dx":8},
        "encoding":{
         "y":{"datum":0,"type":"quantitative"},
         "text":{"field":"sample"},
         "color":{"condition":{"test":"datum.sample==='uPA'","value":"#fff"},"value":"#000"}}}
      ]
     }
    ]
   }
  ]
 }
]
}
